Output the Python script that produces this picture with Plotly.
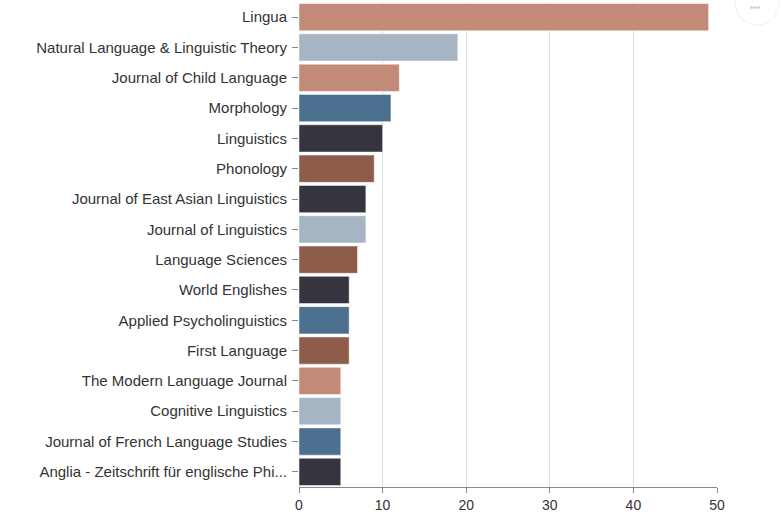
import plotly.graph_objects as go

journals = [
    "Lingua",
    "Natural Language & Linguistic Theory",
    "Journal of Child Language",
    "Morphology",
    "Linguistics",
    "Phonology",
    "Journal of East Asian Linguistics",
    "Journal of Linguistics",
    "Language Sciences",
    "World Englishes",
    "Applied Psycholinguistics",
    "First Language",
    "The Modern Language Journal",
    "Cognitive Linguistics",
    "Journal of French Language Studies",
    "Anglia - Zeitschrift für englische Phi...",
]
counts = [49, 19, 12, 11, 10, 9, 8, 8, 7, 6, 6, 6, 5, 5, 5, 5]

SALMON = "#c28b78"
LIGHT = "#a6b5c3"
STEEL = "#4b6f8f"
DARK = "#36353f"
BROWN = "#8d5c4b"
colors = [SALMON, LIGHT, SALMON, STEEL, DARK, BROWN, DARK, LIGHT, BROWN,
          DARK, STEEL, BROWN, SALMON, LIGHT, STEEL, DARK]

x_ticks = [0, 10, 20, 30, 40, 50]

fig = go.Figure(go.Bar(
    x=counts, y=journals, orientation="h",
    marker=dict(color=colors, line=dict(color="white", width=0.5)),
    hoverinfo="x+y",
))

W, H = 780, 512
L, R, T, B = 299, 63, 2, 25
pw = W - L - R
ph = H - T - B

def px_x(p):
    return (p - L) / pw

def px_y(p):
    return 1 - (p - T) / ph

fig.update_layout(
    width=W, height=H,
    margin=dict(l=L, r=R, t=T, b=B, autoexpand=False),
    paper_bgcolor="white", plot_bgcolor="white",
    font=dict(family="Liberation Sans, Arial, sans-serif", size=15, color="#333333"),
    bargap=0.1,
    showlegend=False,
    xaxis=dict(
        range=[0, 50], tickvals=x_ticks, ticks="outside", ticklen=5,
        tickcolor="#888888", showgrid=True, gridcolor="#dddddd", gridwidth=1,
        showline=True, linecolor="#888888", linewidth=1, zeroline=False,
        tickfont=dict(size=14, color="#333333"), automargin=False,
        ticklabelstandoff=0,
    ),
    yaxis=dict(
        categoryorder="array", categoryarray=journals, autorange="reversed",
        ticks="outside", ticklen=6, tickcolor="#888888", showline=False,
        showgrid=False, tickfont=dict(size=15, color="#333333"),
        automargin=False, ticklabelstandoff=2,
    ),
    shapes=[
        dict(type="circle", xref="paper", yref="paper",
             x0=px_x(735), x1=px_x(779), y0=px_y(25), y1=px_y(-19),
             line=dict(color="#eeeeee", width=1), fillcolor="white"),
    ],
    annotations=[
        dict(text="•••", xref="paper", yref="paper", x=px_x(755), y=px_y(1),
             showarrow=False, font=dict(size=10, color="#cccccc"),
             xanchor="center", yanchor="top", borderpad=0),
    ],
)

fig.write_html(
    "out.html",
    config={"displayModeBar": False},
    post_script="document.body.style.margin='0';document.body.style.overflow='hidden';",
)
